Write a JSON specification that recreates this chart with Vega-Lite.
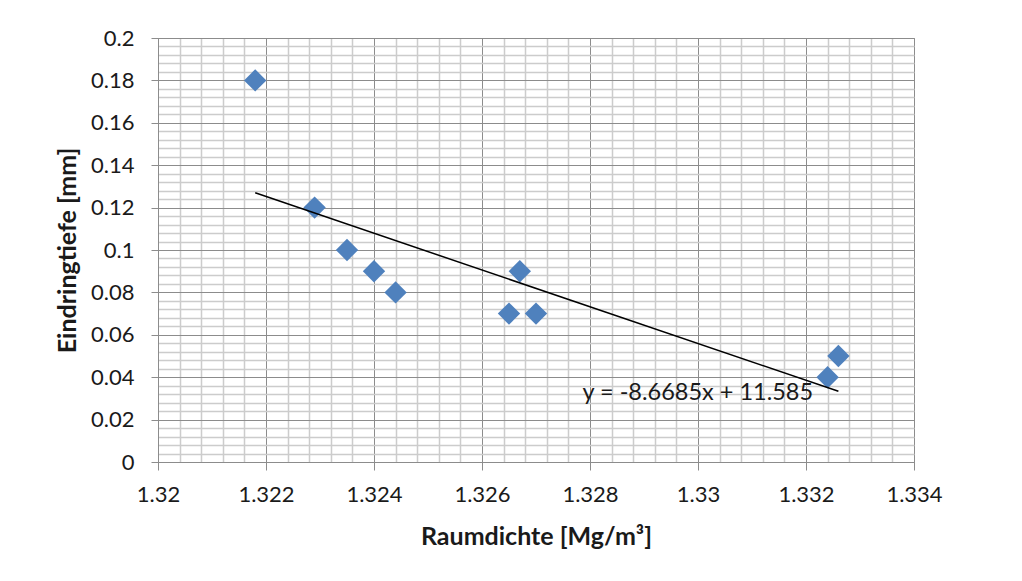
{
  "$schema": "https://vega.github.io/schema/vega-lite/v6.json",
  "width": 756,
  "height": 424,
  "autosize": {"type": "none"},
  "padding": {"left": 158, "top": 38, "right": 108, "bottom": 119},
  "background": "white",
  "config": {
    "view": {"stroke": "#8c8c8c", "strokeWidth": 1},
    "font": "Lato"
  },
  "datasets": {
    "pts": [
      {"x": 1.3218, "y": 0.18},
      {"x": 1.3229, "y": 0.12},
      {"x": 1.3235, "y": 0.10},
      {"x": 1.3240, "y": 0.09},
      {"x": 1.3244, "y": 0.08},
      {"x": 1.3265, "y": 0.07},
      {"x": 1.3267, "y": 0.09},
      {"x": 1.3270, "y": 0.07},
      {"x": 1.3324, "y": 0.04},
      {"x": 1.3326, "y": 0.05}
    ],
    "trend": [
      {"x": 1.3218, "y": 0.12698},
      {"x": 1.3326, "y": 0.03336}
    ],
    "label": [
      {"x": 1.32786, "y": 0.0325, "text": "y = -8.6685x + 11.585"}
    ]
  },
  "layer": [
    {
      "data": {"name": "pts"},
      "mark": {"type": "point", "shape": "diamond", "filled": true, "size": 500, "color": "#4F81BD", "opacity": 1, "strokeWidth": 0},
      "encoding": {
        "x": {
          "field": "x", "type": "quantitative",
          "scale": {"domain": [1.32, 1.334], "nice": false, "zero": false},
          "axis": {
            "title": "Raumdichte [Mg/m³]",
            "values": [1.32,1.3204,1.3208,1.3212,1.3216,1.322,1.3224,1.3228,1.3232,1.3236,1.324,1.3244,1.3248,1.3252,1.3256,1.326,1.3264,1.3268,1.3272,1.3276,1.328,1.3284,1.3288,1.3292,1.3296,1.33,1.3304,1.3308,1.3312,1.3316,1.332,1.3324,1.3328,1.3332,1.3336,1.334],
            "tickCount": 1000,
            "format": "~g",
            "labelExpr": "abs(datum.value*500 - round(datum.value*500)) < 0.001 ? datum.label : ''",
            "labelOverlap": false,
            "labelFlush": false,
            "labelFont": "Lato", "labelFontSize": 22, "labelColor": "#1a1a1a", "labelPadding": 14,
            "grid": true,
            "gridColor": {"condition": {"test": "abs(datum.value*500 - round(datum.value*500)) < 0.001", "value": "#8c8c8c"}, "value": "#cccccc"},
            "gridWidth": {"condition": {"test": "abs(datum.value*500 - round(datum.value*500)) < 0.001", "value": 1}, "value": 1.5},
            "tickOpacity": {"condition": {"test": "abs(datum.value*500 - round(datum.value*500)) < 0.001", "value": 1}, "value": 0},
            "tickColor": "#8c8c8c", "tickSize": 8,
            "domainColor": "#8c8c8c",
            "titleFont": "Lato", "titleFontSize": 25, "titleFontWeight": "bold", "titleColor": "#1a1a1a", "titlePadding": 19
          }
        },
        "y": {
          "field": "y", "type": "quantitative",
          "scale": {"domain": [0, 0.2], "nice": false},
          "axis": {
            "title": "Eindringtiefe [mm]",
            "values": [0,0.004,0.008,0.012,0.016,0.02,0.024,0.028,0.032,0.036,0.04,0.044,0.048,0.052,0.056,0.06,0.064,0.068,0.072,0.076,0.08,0.084,0.088,0.092,0.096,0.1,0.104,0.108,0.112,0.116,0.12,0.124,0.128,0.132,0.136,0.14,0.144,0.148,0.152,0.156,0.16,0.164,0.168,0.172,0.176,0.18,0.184,0.188,0.192,0.196,0.2],
            "tickCount": 1000,
            "format": "~g",
            "labelExpr": "abs(datum.value*50 - round(datum.value*50)) < 0.001 ? datum.label : ''",
            "labelOverlap": false,
            "labelFlush": false,
            "labelFont": "Lato", "labelFontSize": 22, "labelColor": "#1a1a1a", "labelPadding": 17,
            "grid": true,
            "gridColor": {"condition": {"test": "abs(datum.value*50 - round(datum.value*50)) < 0.001", "value": "#8c8c8c"}, "value": "#cccccc"},
            "gridWidth": {"condition": {"test": "abs(datum.value*50 - round(datum.value*50)) < 0.001", "value": 1}, "value": 1.5},
            "tickOpacity": {"condition": {"test": "abs(datum.value*50 - round(datum.value*50)) < 0.001", "value": 1}, "value": 0},
            "tickColor": "#8c8c8c", "tickSize": 7,
            "domainColor": "#8c8c8c",
            "titleFont": "Lato", "titleFontSize": 25, "titleFontWeight": "bold", "titleColor": "#1a1a1a", "titlePadding": 10
          }
        }
      }
    },
    {
      "data": {"name": "trend"},
      "mark": {"type": "line", "color": "black", "strokeWidth": 1.5},
      "encoding": {
        "x": {"field": "x", "type": "quantitative"},
        "y": {"field": "y", "type": "quantitative"}
      }
    },
    {
      "data": {"name": "label"},
      "mark": {"type": "text", "align": "left", "baseline": "middle", "font": "Lato", "fontSize": 23.5, "color": "#1a1a1a"},
      "encoding": {
        "x": {"field": "x", "type": "quantitative"},
        "y": {"field": "y", "type": "quantitative"},
        "text": {"field": "text"}
      }
    }
  ]
}
